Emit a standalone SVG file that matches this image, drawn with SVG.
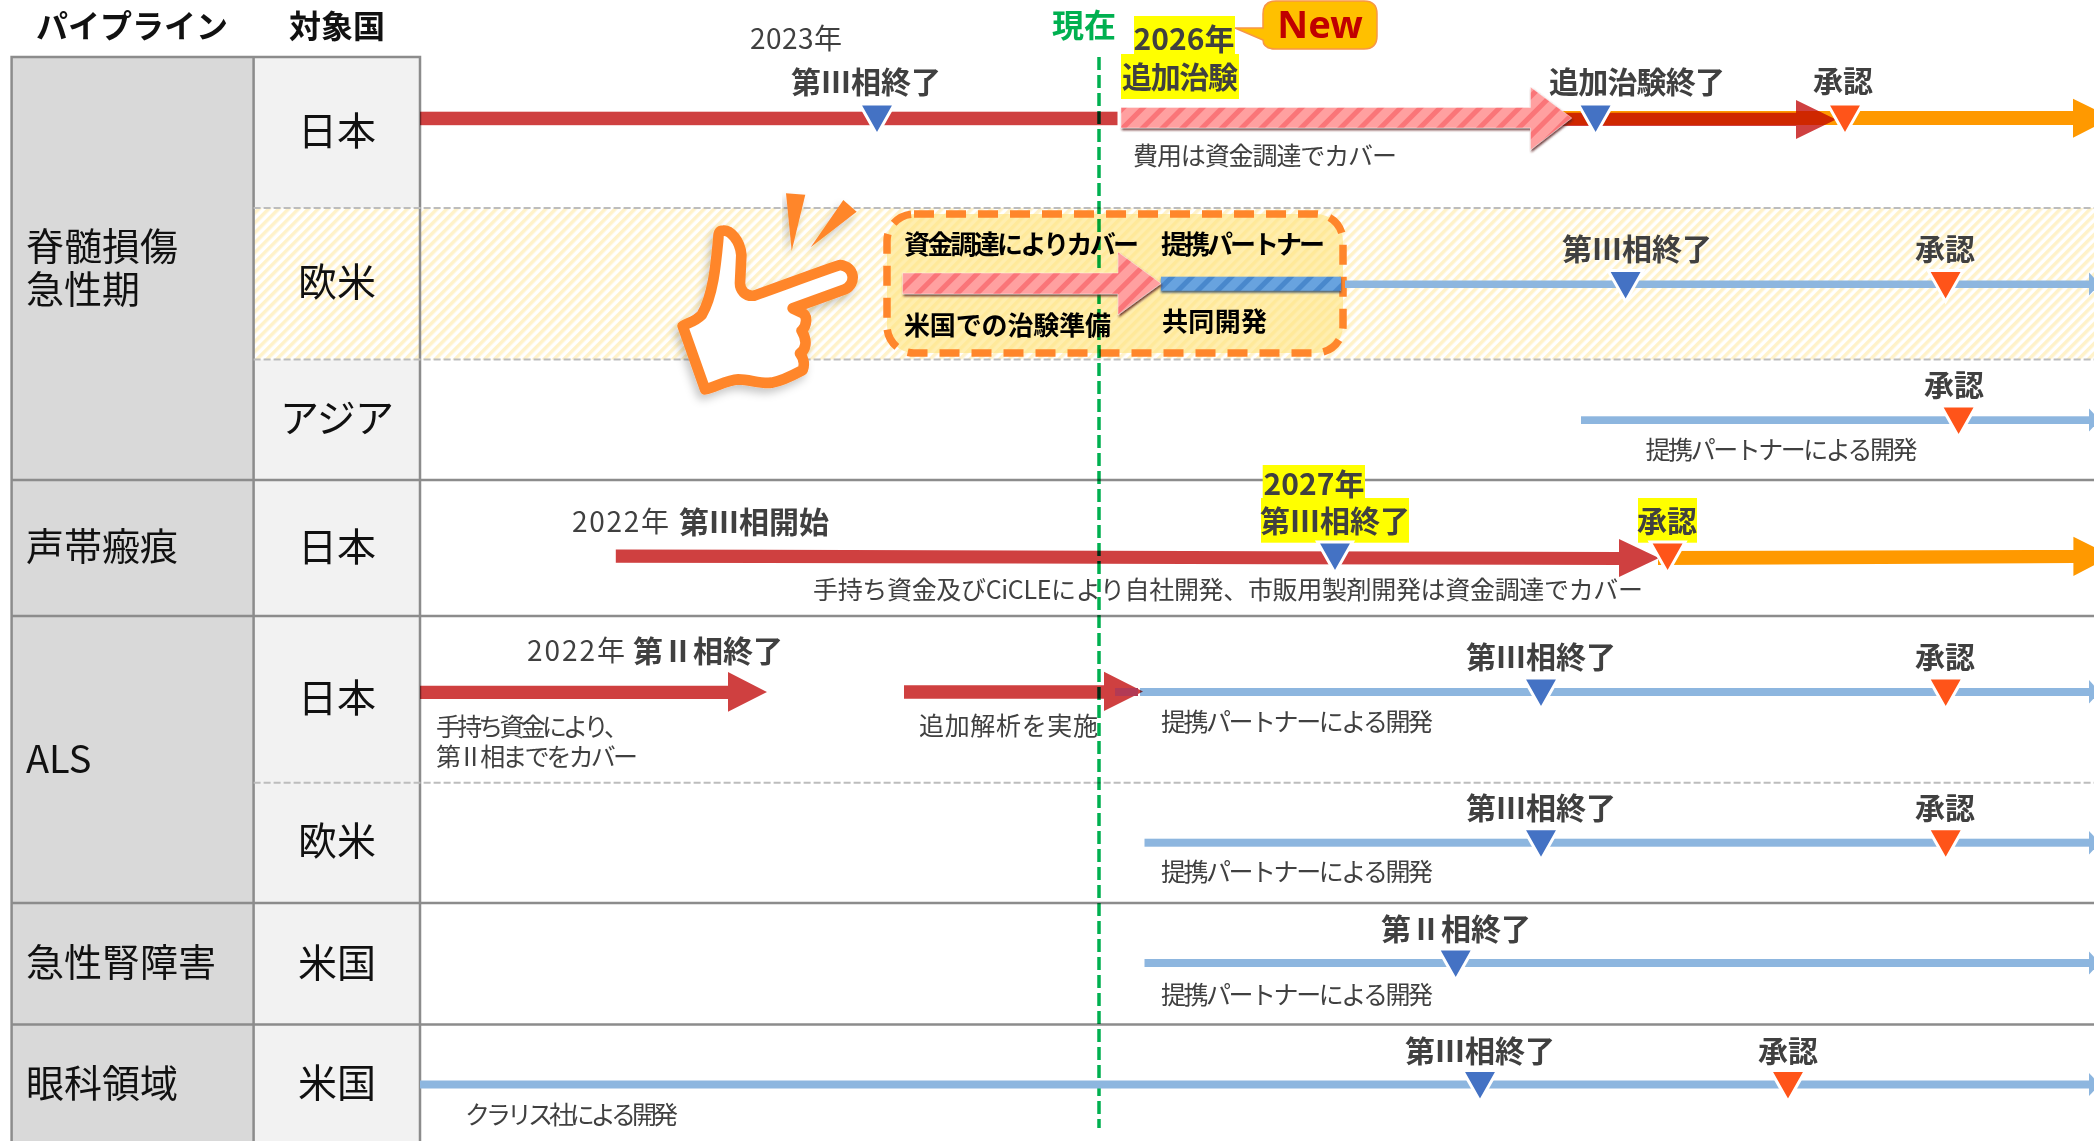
<svg xmlns="http://www.w3.org/2000/svg" xmlns:xlink="http://www.w3.org/1999/xlink" width="2094" height="1141" viewBox="0 0 2094 1141">
<style>
text{font-family:"Noto Sans CJK JP","Noto Sans",sans-serif;dominant-baseline:central}
.cat{font-size:38px;fill:#111}
.cty{font-size:39px;fill:#111;text-anchor:middle}
.hd{font-size:32px;font-weight:700;fill:#111;text-anchor:middle}
.ms{font-size:30px;font-weight:700;fill:#404040;text-anchor:middle}
.yr{font-size:28px;fill:#404040}
.yb{font-size:30px;font-weight:700;fill:#404040;text-anchor:middle}
.note{font-size:25px;fill:#404040}
.bx{font-size:26px;font-weight:700;fill:#000}
.sep{stroke:#8c8c8c;stroke-width:2.5;fill:none}
.dash{stroke:#bdbdbd;stroke-width:2;stroke-dasharray:7 3;fill:none}
.red{fill:#CF4040;mix-blend-mode:multiply}
.org{fill:#FF9900}
.blu{fill:#8DB6DF}
.mb{fill:#4472C4;stroke:#fff;stroke-width:3}
.mo{fill:#FF5419;stroke:#fff;stroke-width:3}
</style>
<defs>
<pattern id="rowHatch" width="7" height="7" patternUnits="userSpaceOnUse" patternTransform="rotate(45)"><rect width="7" height="7" fill="#fff"/><rect width="3.5" height="7" fill="#FFF2CA"/></pattern>
<pattern id="pink" width="14" height="14" patternUnits="userSpaceOnUse" patternTransform="rotate(45)"><rect width="14" height="14" fill="#FFA0A0"/><rect width="5" height="14" fill="#FA7478"/></pattern>
<pattern id="bluh" width="14" height="14" patternUnits="userSpaceOnUse" patternTransform="rotate(45)"><rect width="14" height="14" fill="#67A3DF"/><rect width="5" height="14" fill="#4A88CC"/></pattern>
<filter id="sh" x="-10%" y="-30%" width="120%" height="170%"><feDropShadow dx="1" dy="2" stdDeviation="1" flood-color="#5a1a1a" flood-opacity=".85"/></filter>
<filter id="sb" x="-10%" y="-60%" width="120%" height="240%"><feDropShadow dx="0" dy="2" stdDeviation="1" flood-color="#1f3a66" flood-opacity=".8"/></filter>
<filter id="soft" x="-20%" y="-20%" width="140%" height="140%"><feDropShadow dx="-3" dy="5" stdDeviation="4" flood-color="#000" flood-opacity=".22"/></filter>
<polygon id="tri" points="-17.5,-14 17.5,-14 0,17"/>
</defs>
<rect width="2094" height="1141" fill="#fff"/>

<g id="table">
<rect x="11.6" y="57" width="242" height="1090" fill="#D9D9D9"/>
<rect x="253.6" y="57" width="166.4" height="1090" fill="#F2F2F2"/>
<rect x="253.6" y="208" width="1841" height="151.5" fill="url(#rowHatch)"/>
<path class="sep" d="M11.6 1141V57H420V1141M253.6 57V1141M11.6 480H2094M11.6 616H2094M11.6 903H2094M11.6 1024.5H2094"/>
<path class="dash" d="M253.6 208H2094M253.6 359.5H2094M253.6 782.7H2094"/>
<text class="hd" x="132" y="24">パイプライン</text>
<text class="hd" x="337" y="24">対象国</text>
</g>

<g id="cat-sci"><text class="cat" x="26" y="243">脊髄損傷</text><text class="cat" x="26" y="286">急性期</text></g>
<g id="cat-vocal"><text class="cat" x="26" y="543">声帯瘢痕</text></g>
<g id="cat-als"><text class="cat" x="26" y="756">ALS</text></g>
<g id="cat-aki"><text class="cat" x="26" y="959.5">急性腎障害</text></g>
<g id="cat-eye"><text class="cat" x="26" y="1080">眼科領域</text></g>
<g id="countries">
<text class="cty" x="337" y="128">日本</text>
<text class="cty" x="337" y="279">欧米</text>
<text class="cty" x="337" y="415" textLength="114">アジア</text>
<text class="cty" x="337" y="543.5">日本</text>
<text class="cty" x="337" y="695">日本</text>
<text class="cty" x="337" y="838">欧米</text>
<text class="cty" x="337" y="959.5">米国</text>
<text class="cty" x="337" y="1080">米国</text>
</g>

<g id="hand">
<g filter="url(#soft)">
<path d="M175 115C168 190 160 285 125 345C105 365 85 368 68 378L135 568C165 562 200 540 235 538C270 538 300 552 335 548C370 542 400 525 428 510C436 490 428 470 420 460C436 450 445 425 425 392C440 380 445 345 425 338L398 325L555 268C590 250 585 200 540 195C450 225 360 260 282 287C255 290 240 270 240 250L244 165C240 120 210 90 190 92C178 92 175 100 175 115Z" transform="translate(660 200) scale(.33333)" fill="#fff" stroke="#FF862B" stroke-width="32" stroke-linejoin="round"/>
</g>
<polygon points="786,193.3 805.3,194.7 791.7,251" fill="#FF862B" filter="url(#soft)"/>
<polygon points="843.3,200 856.7,211.7 810.7,247.3" fill="#FF862B" filter="url(#soft)"/>
</g>

<g id="focus-box">
<rect x="887" y="214" width="456" height="139" rx="27" fill="#FFE27A" fill-opacity=".6" stroke="#FF862B" stroke-width="7.5" stroke-dasharray="20 12"/>
</g>

<g id="today">
<line x1="1099" y1="57" x2="1099" y2="1128" stroke="#00B050" stroke-width="3.5" stroke-dasharray="13 5" style="mix-blend-mode:multiply"/>
<text x="1084" y="23" text-anchor="middle" font-size="32" font-weight="700" fill="#00B050">現在</text>
</g>

<g id="connectors">
<!-- sci Japan -->
<rect class="red" x="420" y="111.7" width="697.5" height="13.5"/>
<polygon class="org" points="1560,111 2073,111 2073,98.7 2112,118 2073,137.7 2073,125 1560,125"/>
<polygon class="red" points="1560,112.7 1796,112.7 1796,100 1836,119.5 1796,139 1796,126 1560,126"/>
<polygon points="1121,107.5 1530.5,107.5 1530.5,87 1571.7,118 1530.5,150 1530.5,128 1121,128" fill="url(#pink)" filter="url(#sh)" stroke="#fff" stroke-opacity=".4"/>
<!-- sci EU -->
<rect class="blu" x="1345" y="280.5" width="744" height="7.5"/>
<polygon class="blu" points="2089,272.5 2100,284 2089,295.5"/>
<rect x="1161" y="276.7" width="180" height="14" fill="url(#bluh)" filter="url(#sb)"/>
<polygon points="902.6,273 1118,273 1118,252 1161,283.5 1118,315 1118,294 902.6,294" fill="url(#pink)" filter="url(#sh)" stroke="#fff" stroke-opacity=".4"/>
<!-- sci Asia -->
<rect class="blu" x="1581" y="416.3" width="508" height="7.7"/>
<polygon class="blu" points="2089,408.5 2100,420 2089,431.5"/>
<!-- vocal -->
<polygon class="org" points="1658,565 1658,551 2073.4,550 2073.4,536.7 2112,556 2073.4,576 2073.4,563"/>
<polygon class="red" points="615.8,549.5 1619,552 1619,539 1659,558 1619,577 1619,565 615.8,562.7"/>
<!-- ALS Japan -->
<polygon class="red" points="420,685.7 728,685.7 728,672 767,692 728,711.7 728,699 420,699"/>
<rect class="blu" x="1140" y="688" width="949" height="8"/>
<polygon class="blu" points="2089,680 2100,692 2089,703.5"/>
<polygon class="red" points="904,685.3 1104,685.3 1104,671.7 1143,691.5 1104,711 1104,698.7 904,698.7"/>
<rect x="1115" y="688" width="23" height="8" fill="#B23A55"/>
<!-- ALS EU -->
<rect class="blu" x="1144.5" y="838.7" width="945" height="8"/>
<polygon class="blu" points="2089,831 2100,842.7 2089,854.5"/>
<!-- AKI -->
<rect class="blu" x="1144.5" y="959" width="945" height="8"/>
<polygon class="blu" points="2089,951.5 2100,963 2089,974.5"/>
<!-- Eye -->
<rect class="blu" x="420" y="1080.5" width="1669" height="8"/>
<polygon class="blu" points="2089,1073 2100,1084.5 2089,1096"/>
</g>

<g id="highlights" fill="#FFFF00">
<rect x="1134" y="16" width="101" height="38"/>
<rect x="1121" y="54" width="118" height="45"/>
<rect x="1262.7" y="465" width="102.3" height="33"/>
<rect x="1261" y="498" width="148" height="44.7"/>
<rect x="1638" y="498" width="59" height="44.7"/>
</g>

<g id="new-badge">
<path d="M1276 1H1364Q1377 1 1377 14V36Q1377 49 1364 49H1276Q1263 49 1263 40L1235 28H1263V14Q1263 1 1276 1Z" fill="#FFC000" stroke="#F79646" stroke-width="1.5"/>
<text x="1320" y="23" text-anchor="middle" style="font-family:'Noto Sans',sans-serif" font-size="38" font-weight="700" fill="#C00000">New</text>
</g>

<g id="milestones">
<use href="#tri" class="mb" x="877" y="118"/><use href="#tri" class="mb" x="1595.6" y="118"/><use href="#tri" class="mo" x="1845" y="118"/>
<use href="#tri" class="mb" x="1625.6" y="284.5"/><use href="#tri" class="mo" x="1945.6" y="284.5"/>
<use href="#tri" class="mo" x="1958.6" y="420"/>
<use href="#tri" class="mb" x="1335" y="556"/><use href="#tri" class="mo" x="1667.6" y="556"/>
<use href="#tri" class="mb" x="1541" y="692"/><use href="#tri" class="mo" x="1945.7" y="692"/>
<use href="#tri" class="mb" x="1541" y="842.7"/><use href="#tri" class="mo" x="1945.7" y="842.7"/>
<use href="#tri" class="mb" x="1455.7" y="963"/>
<use href="#tri" class="mb" x="1480" y="1084.5"/><use href="#tri" class="mo" x="1788" y="1084.5"/>
</g>

<g id="labels" transform="translate(0 -2.5)">
<text class="yr" x="750" y="39" textLength="92">2023年</text>
<text class="ms" x="866" y="82">第Ⅲ相終了</text>
<text class="yb" x="1184" y="39">2026年</text>
<text class="ms" x="1180" y="77" textLength="116">追加治験</text>
<text class="ms" x="1637" y="82" textLength="176">追加治験終了</text>
<text class="ms" x="1843" y="81">承認</text>
<text class="note" x="1133" y="156" textLength="264">費用は資金調達でカバー</text>

<text class="ms" x="1637" y="249">第Ⅲ相終了</text>
<text class="ms" x="1945" y="249">承認</text>
<text class="bx" x="904" y="245" textLength="235">資金調達によりカバー</text>
<text class="bx" x="1161" y="245" textLength="164">提携パートナー</text>
<text class="bx" x="904" y="326" textLength="207">米国での治験準備</text>
<text class="bx" x="1162" y="322" textLength="105">共同開発</text>

<text class="ms" x="1954" y="385">承認</text>
<text class="note" x="1645.6" y="450" textLength="272">提携パートナーによる開発</text>

<text class="yr" x="572" y="522" textLength="97">2022年</text>
<text class="ms" x="754" y="522">第Ⅲ相開始</text>
<text class="yb" x="1314" y="484">2027年</text>
<text class="ms" x="1335" y="521">第Ⅲ相終了</text>
<text class="ms" x="1667" y="521">承認</text>
<text class="note" x="813" y="590" textLength="830">手持ち資金及びCiCLEにより自社開発、市販用製剤開発は資金調達でカバー</text>

<text class="yr" x="527" y="651" textLength="98">2022年</text>
<text class="ms" x="708" y="651">第Ⅱ相終了</text>
<text class="note" x="436" y="727" textLength="193">手持ち資金により、</text>
<text class="note" x="436" y="757" textLength="202">第Ⅱ相までをカバー</text>
<text class="note" x="919" y="726" textLength="179">追加解析を実施</text>
<text class="ms" x="1541" y="657">第Ⅲ相終了</text>
<text class="ms" x="1945" y="657">承認</text>
<text class="note" x="1161" y="722" textLength="272">提携パートナーによる開発</text>

<text class="ms" x="1541" y="808">第Ⅲ相終了</text>
<text class="ms" x="1945" y="808">承認</text>
<text class="note" x="1161" y="872" textLength="272">提携パートナーによる開発</text>

<text class="ms" x="1456" y="929">第Ⅱ相終了</text>
<text class="note" x="1161" y="995" textLength="272">提携パートナーによる開発</text>

<text class="ms" x="1480" y="1051">第Ⅲ相終了</text>
<text class="ms" x="1788" y="1051">承認</text>
<text class="note" x="465" y="1115" textLength="213">クラリス社による開発</text>
</g>
</svg>
